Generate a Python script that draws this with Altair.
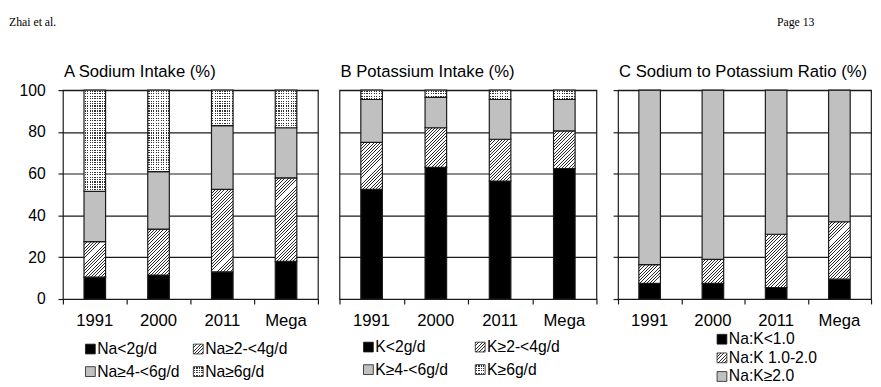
import math
import altair as alt
import pandas as pd

# ---------------- data ----------------
years = ["1991", "2000", "2011", "Mega"]

# A  Sodium intake (%) - segment sizes, bottom to top
na_lt2 = [10.5, 11.5, 13.0, 18.0]
na_2_4 = [17.0, 22.0, 39.5, 40.0]
na_4_6 = [24.0, 27.5, 30.5, 24.0]
na_ge6 = [48.5, 39.0, 17.0, 18.0]
na_labels = ["Na<2g/d", "Na≥2-<4g/d", "Na≥4-<6g/d", "Na≥6g/d"]

# B  Potassium intake (%)
k_lt2 = [52.5, 63.0, 56.5, 62.5]
k_2_4 = [22.5, 19.0, 20.0, 18.0]
k_4_6 = [20.5, 14.5, 19.0, 15.0]
k_ge6 = [4.5, 3.5, 4.5, 4.5]
k_labels = ["K<2g/d", "K≥2-<4g/d", "K≥4-<6g/d", "K≥6g/d"]

# C  Sodium to potassium ratio (%)
r_lt1 = [7.5, 7.5, 5.5, 9.5]
r_1_2 = [9.0, 11.5, 25.5, 27.5]
r_ge2 = [83.5, 81.0, 69.0, 63.0]
r_labels = ["Na:K<1.0", "Na:K 1.0-2.0", "Na:K≥2.0"]

y_ticks = [0, 20, 40, 60, 80, 100]
titles = ["A Sodium Intake (%)", "B Potassium Intake (%)",
          "C Sodium to Potassium Ratio (%)"]
header_left = "Zhai et al."
header_right = "Page 13"

# ---------------- style ----------------
FONT = "Liberation Sans"
SERIF = "Liberation Serif"
INK = "#1a1a1a"
GRAY = "#c0c0c0"
H = 213
BAR_W = 22
CLEAR = "rgba(255,255,255,0)"


def grad(x2, y2, stops):
    return {"gradient": "linear", "x1": 0, "y1": 0, "x2": x2, "y2": y2,
            "stops": [{"offset": round(o, 5), "color": c} for o, c in stops]}


def hatch_fill(w, h, period=3.3, line=1.0, dark="#2a2a2a", light="#ffffff"):
    L = w + h
    k = L * h / (w * w + h * h)
    stops = []
    n = int(math.ceil(L / period))
    for i in range(n):
        a = i * period / L
        b = min((i * period + line) / L, 1.0)
        c = min((i + 1) * period / L, 1.0)
        stops += [(a, dark), (b, dark), (b, light), (c, light)]
    return grad(k * w / h, k, stops)


def gap_fill(length, along_y, period=2.5, dot=1.2):
    stops = [(0.0, "#ffffff")]
    i = 0
    while True:
        a = (i * period + (period - dot) / 2) / length
        b = a + dot / length
        if b > 1:
            break
        stops += [(a, "#ffffff"), (a, CLEAR), (b, CLEAR), (b, "#ffffff")]
        i += 1
    stops.append((1.0, "#ffffff"))
    return grad(0, 1, stops) if along_y else grad(1, 0, stops)


DOT_BASE = "#333333"


def text_at(s, x, y, font=FONT, size=17):
    return alt.Chart(pd.DataFrame({"t": [s]})).mark_text(
        align="left", baseline="alphabetic", font=font, fontSize=size, color="black"
    ).encode(text="t:N", x=alt.value(x), y=alt.value(y))


def panel(width, series, styles, labels, leg_col, leg_row, leg_x, leg_y,
          title, y_axis, extras):
    step = width / len(years)
    pin = 1 - BAR_W / step
    x_enc = alt.X("year:N", sort=years,
                  scale=alt.Scale(domain=years, paddingInner=pin, paddingOuter=pin / 2),
                  axis=alt.Axis(title=None, labelAngle=0, ticks=False, tickSize=0,
                                domain=False, grid=False, labelFontSize=17,
                                labelFont=FONT, labelColor="black", labelPadding=27,
                                labelBaseline="alphabetic"))
    y_enc = alt.Y("end:Q", scale=alt.Scale(domain=[0, 100], nice=False, zero=True),
                  axis=y_axis)

    rows = []
    for j, yr in enumerate(years):
        base = 0.0
        for s, vals in enumerate(series):
            rows.append({"year": yr, "seg": s, "start": base, "end": base + vals[j]})
            base += vals[j]
    df = pd.DataFrame(rows)

    def bar(data, **kw):
        return alt.Chart(data).mark_bar(**kw).encode(x=x_enc, y=y_enc, y2="start:Q")

    layers = []
    for s, style in enumerate(styles):
        sub = df[df.seg == s]
        if style == "black":
            layers.append(bar(sub, fill="black", stroke=INK, strokeWidth=1.2))
        elif style == "gray":
            layers.append(bar(sub, fill=GRAY, stroke=INK, strokeWidth=1.2))
        elif style == "hatch":
            for _, r in sub.iterrows():
                h = (r["end"] - r["start"]) * H / 100
                one = sub[sub.year == r["year"]]
                layers.append(bar(one, fill=hatch_fill(BAR_W, h), stroke=INK, strokeWidth=1.2))
        elif style == "dots":
            for _, r in sub.iterrows():
                h = (r["end"] - r["start"]) * H / 100
                one = sub[sub.year == r["year"]]
                layers.append(bar(one, fill=DOT_BASE, strokeWidth=0))
                layers.append(bar(one, fill=gap_fill(h, True), strokeWidth=0))
                layers.append(bar(one, fill=gap_fill(BAR_W, False), stroke=INK, strokeWidth=1.2))
    bars = alt.layer(*layers)

    # legend
    leg = pd.DataFrame({"label": labels, "col": leg_col, "row": leg_row,
                        "style": styles[:len(labels)]})
    lx = alt.X("col:Q", scale=alt.Scale(domain=[0, 1], range=leg_x), axis=None)
    ly = alt.Y("row:Q", scale=alt.Scale(domain=[0, max(max(leg_row), 1)], range=leg_y),
               axis=None)

    def sw(data, **kw):
        return alt.Chart(data).mark_square(size=100, opacity=1, **kw).encode(x=lx, y=ly)

    leg_layers = []
    for style in ["black", "hatch", "gray", "dots"]:
        sub = leg[leg["style"] == style]
        if len(sub) == 0:
            continue
        if style == "black":
            leg_layers.append(sw(sub, fill="black", stroke=INK, strokeWidth=0.8))
        elif style == "gray":
            leg_layers.append(sw(sub, fill=GRAY, stroke=INK, strokeWidth=0.8))
        elif style == "hatch":
            leg_layers.append(sw(sub, fill=hatch_fill(10, 10, period=3.4, line=1.1),
                                 stroke=INK, strokeWidth=0.8))
        elif style == "dots":
            leg_layers.append(sw(sub, fill=DOT_BASE, strokeWidth=0))
            leg_layers.append(sw(sub, fill=gap_fill(10, True), strokeWidth=0))
            leg_layers.append(sw(sub, fill=gap_fill(10, False), stroke=INK, strokeWidth=0.8))
    leg_layers.append(
        alt.Chart(leg).mark_text(align="left", baseline="middle", dx=7, fontSize=16,
                                 font=FONT, color="black")
        .encode(x=lx, y=ly, text="label:N"))
    # panel title
    leg_layers.append(text_at(title, 1, -13))
    leg_layers += extras
    legend = alt.layer(*leg_layers)

    # x ticks on category boundaries
    nb = len(years)
    ticks = alt.Chart(pd.DataFrame({"b": [0, nb]})).mark_point(opacity=0, size=1).encode(
        x=alt.X("b:Q", scale=alt.Scale(domain=[0, nb], nice=False, zero=False),
                axis=alt.Axis(orient="bottom", values=list(range(nb + 1)), labels=False,
                              grid=False, domain=False, ticks=True, tickSize=5,
                              tickColor=INK, tickWidth=1.2, title=None)))

    return alt.layer(bars, legend, ticks).resolve_scale(
        x="independent", y="independent"
    ).properties(width=width, height=H)


def y_axis(labels, ticks):
    return alt.Axis(values=y_ticks, title=None, grid=True, gridColor=INK, gridWidth=1.2,
                    gridOpacity=1, domain=False, ticks=ticks, tickSize=5, tickColor=INK,
                    tickWidth=1.2, labels=labels, labelFontSize=16, labelFont=FONT,
                    labelColor="black", labelPadding=13)


hdr_l = text_at(header_left, -55, -65, font=SERIF, size=12)
hdr_r = text_at(header_right, 162, -65, font=SERIF, size=12)

pA = panel(260, [na_lt2, na_2_4, na_4_6, na_ge6], ["black", "hatch", "gray", "dots"],
           na_labels, [0, 1, 0, 1], [0, 0, 1, 1], [28, 138], [264, 287],
           titles[0], y_axis(True, True), [hdr_l])
pB = panel(262, [k_lt2, k_2_4, k_4_6, k_ge6], ["black", "hatch", "gray", "dots"],
           k_labels, [0, 1, 0, 1], [0, 0, 1, 1], [29.5, 143.5], [262, 285],
           titles[1], y_axis(False, False), [])
pC = panel(258, [r_lt1, r_1_2, r_ge2], ["black", "hatch", "gray"],
           r_labels, [0, 0, 0], [0, 1, 2], [106, 200], [254, 292],
           titles[2], y_axis(False, True), [hdr_r])

chart = alt.hconcat(pA, pB, pC, spacing=22, bounds="flush").properties(
    padding={"left": 0, "top": 4, "right": 0, "bottom": 0},
    background="white",
).configure_view(stroke=INK, strokeWidth=1.2)

chart.save("out.html", embed_options={"renderer": "svg", "actions": False})
